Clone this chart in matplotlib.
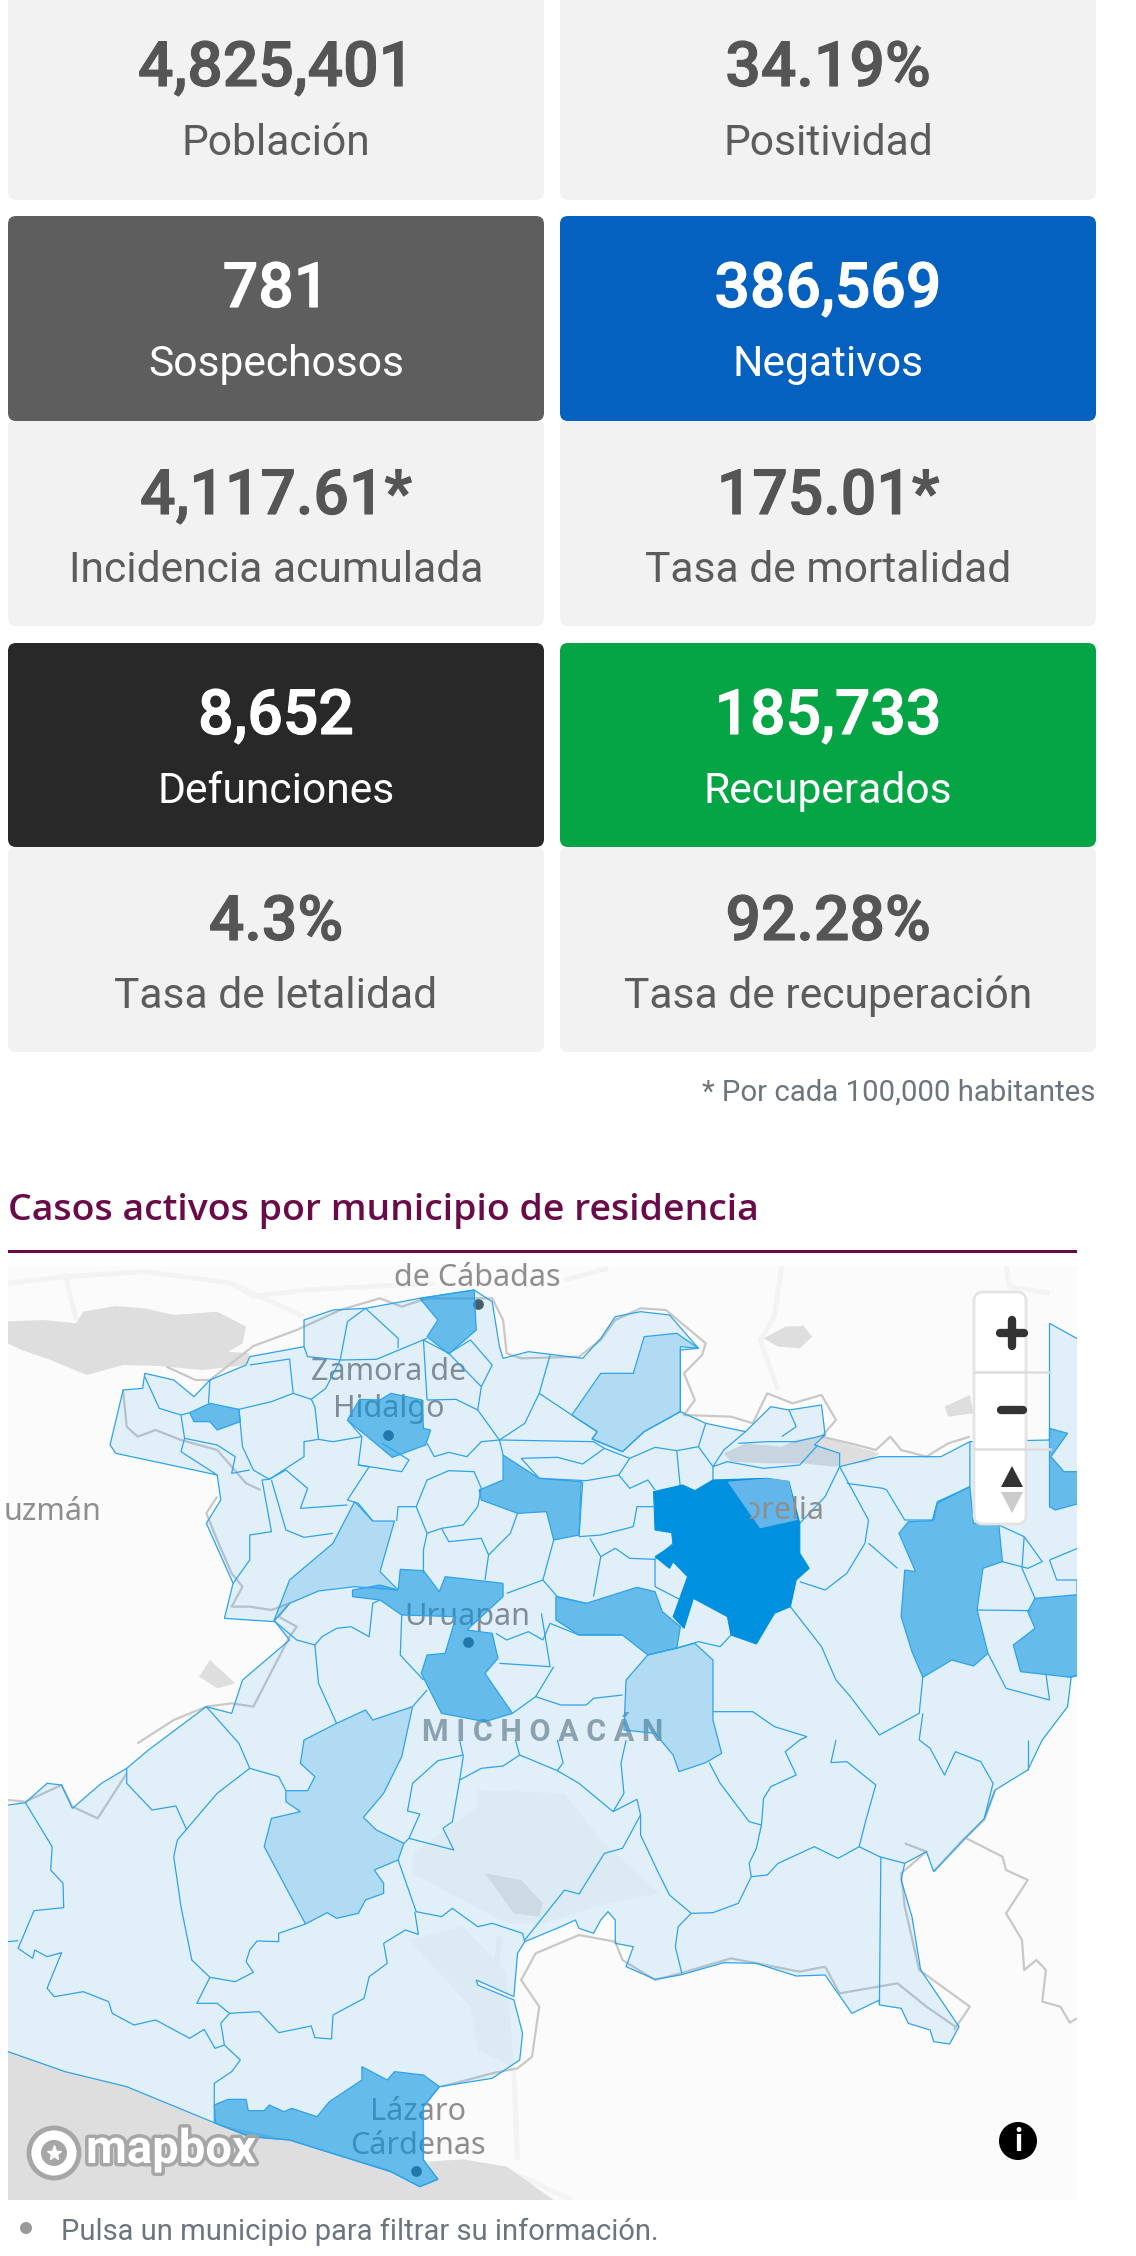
import matplotlib
matplotlib.use('Agg')
import matplotlib.pyplot as plt
import matplotlib.patheffects as pe
from matplotlib.collections import LineCollection
from matplotlib.patches import Circle, FancyBboxPatch, Polygon, Rectangle

plt.rcParams['font.family'] = ['Roboto', 'DejaVu Sans']

# Stat cards, top to bottom
card_values = [['4,825,401', '34.19%'], ['781', '386,569'], ['4,117.61*', '175.01*'],
               ['8,652', '185,733'], ['4.3%', '92.28%']]
card_labels = [['Población', 'Positividad'], ['Sospechosos', 'Negativos'],
               ['Incidencia acumulada', 'Tasa de mortalidad'],
               ['Defunciones', 'Recuperados'], ['Tasa de letalidad', 'Tasa de recuperación']]
card_colors = [['#f2f2f2', '#f2f2f2'], ['#5e5e5e', '#0561bf'], ['#f2f2f2', '#f2f2f2'],
               ['#282828', '#05a545'], ['#f2f2f2', '#f2f2f2']]
card_tops = [-20, 216, 420, 643, 847]
card_bottoms = [200, 421, 626, 847, 1052]
value_base = [86, 307, 514, 734, 940]
label_base = [155, 376, 582, 803, 1008]
card_lefts = [8, 560]
card_rights = [544, 1096]

# Map traced in its own coordinates: x 11-1488, y 78-2880
outline = [(152,615),(170,450),(197,445),(200,400),(240,420),(268,470),(290,420),(340,375),(345,350),(420,320),
           (420,240),(460,210),(505,205),(580,175),(655,150),(680,185),(690,320),(695,355),(730,335),(805,355),
           (830,295),(850,230),(885,215),(925,225),(965,325),(940,330),(940,515),(975,550),(1030,575),(1065,500),
           (1090,510),(1135,495),(1140,585),(1125,615),(1160,640),(1160,680),(1215,650),(1300,650),(1340,605),
           (1450,600),(1450,250),(1500,310),(1500,1300),(1480,1310),(1475,1400),(1440,1500),(1420,1590),(1375,1650),
           (1360,1735),(1290,1895),(1280,1835),(1250,1870),(1245,1920),(1260,2030),(1272,2190),(1325,2360),
           (1312,2412),(1290,2405),(1285,2370),(1255,2350),(1245,2305),(1215,2295),(1215,2280),(1177,2320),
           (1140,2205),(1100,2208),(1045,2170),(1000,2168),(940,2205),(905,2218),(865,2180),(875,2120),(850,2110),
           (850,2040),(840,2015),(830,2040),(820,2080),(800,2065),(795,2040),(775,2060),(725,2105),(715,2140),
           (710,2270),(658,2220),(660,2235),(710,2280),(722,2380),(718,2460),(680,2515),(607,2540),(585,2600),
           (585,2760),(605,2818),(580,2840),(540,2795),(400,2700),(345,2690),(298,2650),(175,2540),(90,2495),
           (11,2435),(0,2430),(0,1695),(11,1695),(35,1688),(65,1630),(85,1635),(100,1705),(140,1630),(175,1585),
           (205,1530),(285,1400),(320,1420),(335,1320),(400,1200),(380,1145),(310,1135),(322,1030),(285,850),
           (305,780),(300,705),(160,640)]

light_areas = [
    [(890,290),(935,280),(965,325),(940,320),(940,515),(890,575),(860,635),(818,597),(825,575),(790,525),(830,400),(875,400)],
    [(490,785),(515,843),(545,843),(525,995),(550,1050),(490,1040),(440,1053),(400,1090),(378,1145),(400,1020),(460,910)],
    [(895,1245),(960,1210),(985,1260),(985,1440),(997,1540),(975,1568),(938,1595),(930,1545),(905,1480),(862,1470),(865,1320)],
    [(420,1500),(415,1570),(435,1610),(425,1652),(395,1652),(395,1685),(415,1715),(375,1735),(365,1820),(422,2052),
     (452,2018),(465,2035),(495,2020),(505,1980),(530,1960),(530,1930),(517,1890),(550,1860),(558,1810),(520,1770),
     (502,1732),(530,1660),(555,1550),(570,1400),(515,1440),(505,1410),(465,1450)],
]
mid_areas = [
    [(580,175),(655,150),(658,270),(620,342),(590,290),(605,240)],
    [(262,518),(290,490),(330,508),(332,545),(300,570),(290,545),(268,545)],
    [(540,460),(583,480),(585,565),(595,570),(588,615),(542,652),(480,540),(497,478),(525,480)],
    [(695,645),(745,715),(803,725),(800,885),(765,900),(755,815),(715,820),(665,780),(662,750),(695,720)],
    [(487,1050),(525,1035),(550,1050),(553,988),(585,992),(607,1055),(615,1010),(695,1030),(695,1070),(645,1170),
     (680,1180),(688,1255),(670,1300),(708,1420),(670,1445),(610,1420),(582,1300),(590,1245),(615,1240),(630,1130),
     (555,1125),(525,1080),(487,1070)],
    [(768,1070),(810,1090),(880,1042),(905,1055),(915,1115),(940,1160),(935,1225),(895,1245),(860,1185),(800,1185),(768,1140)],
    [(1295,785),(1340,740),(1345,850),(1380,855),(1385,965),(1358,985),(1350,1110),(1365,1240),(1345,1278),(1315,1260),
     (1275,1312),(1260,1235),(1245,1130),(1250,990),(1265,995),(1242,880),(1255,845),(1288,842)],
    [(1500,1062),(1430,1075),(1420,1115),(1430,1165),(1400,1215),(1410,1295),(1480,1312),(1500,1300)],
    [(1450,565),(1475,580),(1452,650),(1470,695),(1500,695),(1500,785),(1458,810),(1450,800)],
    [(500,2480),(535,2520),(545,2495),(585,2505),(607,2540),(585,2600),(585,2760),(605,2818),(580,2840),(540,2795),
     (400,2700),(345,2690),(298,2650),(296,2595),(315,2578),(340,2578),(343,2612),(365,2612),(372,2595),(392,2615),
     (403,2605),(438,2630),(455,2585),(500,2520)],
]
dark_area = [(903,755),(943,735),(960,752),(985,720),(1060,715),(1090,725),(1105,850),(1105,940),(1118,985),(1100,1020),
             (1092,1100),(1070,1120),(1045,1212),(1010,1185),(1005,1130),(958,1075),(945,1165),(930,1130),(950,1010),
             (930,965),(925,985),(905,950),(930,915),(928,878),(905,870)]
morelia_area = [(1005,725),(1060,715),(1090,722),(1102,840),(1050,865)]

borders = [
    [(505,205),(550,295),(550,325)], [(505,205),(480,245),(470,360)], [(470,360),(520,358),(590,295)],
    [(585,300),(620,340),(650,300),(670,350),(680,375)], [(420,320),(425,350),(470,360)],
    [(345,375),(400,357),(405,460),(375,485),(330,508)], [(290,420),(288,490)],
    [(200,410),(220,505),(250,525),(262,518)], [(405,460),(430,478),(450,445),(470,360)],
    [(250,525),(255,595),(250,635),(300,705)], [(255,595),(300,615),(325,650),(320,700),(345,690)],
    [(330,508),(335,620),(350,690),(372,718),(420,650),(420,605),(440,598),(435,500),(430,478)],
    [(440,598),(460,605),(500,590),(480,540)], [(500,590),(495,675),(555,695),(565,660),(528,610)],
    [(495,675),(510,680),(480,780),(495,790),(515,843)], [(372,718),(395,690),(425,745),(415,805),(480,795)],
    [(372,718),(362,720),(375,875),(345,885),(345,960),(322,1030)], [(375,720),(395,870),(420,892),(460,880)],
    [(590,610),(600,650),(620,637),(645,650),(665,605),(690,600),(695,645)],
    [(590,480),(630,478),(660,510),(690,600),(725,550),(745,460),(760,345)], [(585,300),(590,480)],
    [(680,375),(665,440),(620,340)], [(665,440),(660,510)],
    [(745,460),(790,525),(825,575),(818,597),(860,635),(890,575),(940,515)], [(690,600),(820,605),(835,625)],
    [(720,655),(770,652),(805,672),(835,625),(870,655)], [(720,655),(745,715),(810,722),(855,705),(870,655)],
    [(870,655),(905,622),(935,632),(965,620),(975,550)], [(935,632),(940,745)], [(965,620),(985,680),(985,720)],
    [(855,705),(870,745),(895,720),(905,750)], [(985,680),(1005,665),(1055,685),(1105,675),(1130,615)],
    [(1020,610),(1060,605),(1100,605),(1140,585)], [(1030,575),(1000,630),(985,680)], [(1090,510),(1100,560),(1080,590)],
    [(1160,680),(1140,770),(1105,850)], [(1160,680),(1200,840),(1195,910),(1170,1000),(1140,1050),(1105,1025)],
    [(1170,730),(1220,745),(1225,750),(1250,840),(1290,840),(1295,790)], [(1295,790),(1340,740),(1340,605)],
    [(1200,910),(1240,985)], [(805,725),(800,890),(830,885),(875,860),(880,800),(905,800)],
    [(815,895),(830,950),(820,1070)], [(830,950),(850,925),(870,955),(905,958),(935,900)],
    [(905,958),(905,1040),(945,1085)],
    [(575,800),(590,720),(620,692),(655,695),(665,745),(660,800),(640,855),(610,865),(590,880),(575,800)],
    [(548,843),(550,800),(575,800)], [(590,880),(585,930),(585,1000)], [(610,865),(620,905),(665,895),(675,945),(670,1020)],
    [(715,820),(705,880),(675,945)], [(765,900),(750,1020),(700,1060)], [(750,1020),(770,1070),(810,1090)],
    [(1092,1100),(1135,1220),(1155,1320),(1175,1370),(1215,1485),(1270,1420),(1275,1310)],
    [(935,1225),(965,1205),(995,1220),(1010,1185)], [(985,1415),(1040,1415),(1070,1460),(1115,1490)],
    [(1275,1420),(1270,1500)], [(1365,1240),(1390,1345),(1450,1380),(1445,1300)], [(1350,1110),(1425,1112)],
    [(1385,965),(1420,985),(1440,965),(1415,890)], [(1415,890),(1412,985),(1430,1075)], [(1450,960),(1500,915)],
    [(1380,855),(1415,890)], [(1450,960),(1460,1020),(1488,1020),(1488,1060)],
    [(748,1120),(760,1280),(690,1270)], [(685,1180),(700,1200),(730,1175),(750,1200)],
    [(765,1280),(740,1370),(775,1395),(810,1395),(820,1375),(860,1365)], [(860,1185),(800,1185),(760,1150),(750,1200)],
    [(740,1370),(708,1420)], [(380,1145),(410,1200),(435,1215),(445,1190),(465,1165),(485,1160),(510,1190),(515,1090),(525,1080)],
    [(555,1125),(553,1245),(585,1320)], [(435,1215),(440,1330),(465,1450)], [(590,1350),(570,1400)],
    [(285,1400),(330,1510),(345,1585),(300,1660),(245,1800),(240,1850),(250,2000),(265,2160),(290,2212),(325,2225),
     (350,2197),(340,2165),(345,2130),(355,2103),(385,2105),(385,2080),(422,2052)],
    [(345,1585),(385,1610),(395,1652)], [(175,1585),(175,1630),(210,1710),(243,1698),(258,1770)],
    [(35,1688),(72,1820),(70,1890),(87,1930),(88,2003),(47,2012),(25,2125),(45,2155),(48,2130),(65,2150),(85,2138),
     (65,2245),(75,2270),(115,2255),(150,2285),(155,2320),(185,2355),(215,2340),(262,2395),(282,2368),(297,2425),
     (310,2415),(332,2460),(320,2495),(296,2530),(296,2650)],
    [(11,2105),(25,2102)],
    [(290,2212),(272,2290),(300,2290),(317,2320),(358,2315),(385,2378),(430,2358),(435,2393),(458,2397),(460,2325),
     (503,2275),(510,2210),(535,2170),(530,2110),(560,2070),(578,2083),(573,2015)],
    [(317,2320),(305,2350),(310,2415)], [(550,1860),(575,2015),(610,2030),(625,2005),(660,2060),(680,2050),(722,2080),(725,2105)],
    [(725,2100),(780,1950),(800,1962),(835,1840),(860,1825),(885,1725),(880,1678),(847,1715),(800,1630),(770,1592),
     (718,1545),(695,1578),(665,1585),(635,1620),(640,1550),(635,1500)],
    [(718,1545),(712,1500)], [(770,1592),(778,1568),(770,1500)], [(847,1715),(862,1660),(858,1570),(865,1500)],
    [(635,1620),(625,1745),(612,1765),(627,1830),(565,1795),(580,1722),(563,1713),(570,1630),(605,1562),(640,1545)],
    [(558,1810),(565,1795)],
    [(885,1725),(885,1785),(910,1900),(925,1965),(955,2020),(985,2018),(1020,1990),(1038,1910),(1060,1905),(1075,1870),
     (1125,1820),(1158,1855),(1187,1820),(1197,1735),(1210,1635),(1170,1565),(1148,1568),(1155,1500)],
    [(955,2020),(937,2060),(933,2120),(942,2200)],
    [(980,1568),(995,1630),(1035,1745),(1052,1755),(1045,1825),(1035,1870),(1038,1910)],
    [(1052,1755),(1055,1675),(1065,1640),(1100,1605),(1085,1535),(1105,1500),(1115,1490)],
    [(1187,1820),(1215,1850),(1250,1870)], [(1360,1735),(1372,1630),(1355,1565),(1320,1535),(1305,1605),(1285,1525),(1270,1500)],
    [(1217,1850),(1215,2295)], [(1420,1500),(1420,1590)],
]

state_lines = [
    [(170,450),(175,560),(190,590),(215,570),(250,600),(300,630),(320,680),(340,730),(360,750)],
    [(300,770),(285,820),(300,900),(320,1000),(335,1040),(320,1100),(345,1100),(375,1110),(400,1090),(385,1130),
     (410,1160),(400,1190),(350,1400),(320,1390),(285,1400),(240,1440),(190,1510)],
    [(230,380),(270,420),(290,420),(350,318),(410,270),(470,210),(525,175),(555,200),(590,175),(680,175),(695,240),
     (700,340),(720,355),(800,350),(830,300),(850,240),(885,205),(920,210),(975,310),(970,345),(945,400),(960,480),
     (945,525),(1010,530),(1040,550),(1060,460),(1095,490),(1135,465),(1155,540),(1135,590),(1175,610),(1210,630),
     (1230,590),(1245,630),(1280,650),(1310,610),(1340,590)],
    [(1335,1795),(1385,1850),(1390,1890),(1420,1920),(1390,2020),(1412,2100),(1415,2190),(1432,2160),(1445,2190),
     (1440,2285),(1465,2300),(1478,2348),(1488,2335)],
    [(1250,1810),(1280,1835),(1245,1900),(1250,2000),(1270,2190),(1340,2300),(1318,2370)],
    [(1140,2180),(1105,2195),(1010,2155),(940,2200),(905,2220),(860,2160),(850,2105),(800,2085),(740,2140),(720,2220),
     (745,2300),(735,2450),(715,2485),(680,2500),(610,2540)],
    [(1140,2180),(1160,2260),(1240,2230),(1280,2300),(1320,2360)],
    [(11,1680),(35,1685),(85,1635),(100,1700),(135,1735),(175,1600)],
    [(1375,1650),(1360,1740),(1330,1800),(1290,1895)],
]
road_lines = [
    [(11,130),(90,110),(200,95),(320,130),(420,230)], [(90,100),(105,240)], [(320,130),(350,170),(420,150),(600,130)],
    [(780,120),(840,85)], [(1080,78),(1070,230),(1050,300),(1075,450)], [(1390,78),(1395,140),(1450,160)],
    [(690,2090),(680,2300),(710,2500),(715,2760)], [(610,2800),(700,2790),(790,2880)],
]
lakes = [
    [(0,245),(60,240),(105,250),(115,215),(160,198),(200,205),(240,225),(300,215),(340,260),(335,310),(315,335),
     (345,340),(340,375),(280,390),(220,378),(170,375),(120,405),(70,360),(30,330),(0,300)],
    [(1085,260),(1110,258),(1122,290),(1105,325),(1075,320),(1055,295)],
    [(1000,640),(1030,610),(1080,620),(1100,600),(1130,590),(1160,605),(1215,640),(1200,665),(1150,680),(1110,670),
     (1060,670),(1010,665)],
    [(0,2425),(90,2495),(175,2540),(295,2650),(400,2700),(540,2790),(580,2840),(605,2820),(590,2765),(640,2758),
     (700,2780),(765,2880),(0,2880)],
    [(1305,500),(1340,465),(1345,520),(1310,530)], [(290,1260),(305,1290),(325,1330),(300,1345),(275,1310)],
]
city_areas = [[(570,1840),(660,1700),(660,1650),(780,1660),(830,1800),(910,1960),(840,1990),(750,2050),(700,2050),(570,1900)],
              [(565,2100),(640,2060),(700,2200),(710,2480),(660,2430),(650,2300)]]
reservoir = [(670,1900),(720,1920),(750,1990),(745,2030),(710,2020)]

map_labels = ['de Cábadas', 'Zamora de', 'Hidalgo', 'uzmán', 'Uruapan', 'Lázaro', 'Cárdenas']
map_label_x = [660, 537, 537, 72, 645, 577, 577]
map_label_y = [115, 395, 508, 815, 1130, 2615, 2717]
city_dots_x = [660, 536, 646, 575]
city_dots_y = [193, 586, 1207, 2792]

title = 'Casos activos por municipio de residencia'
footnote = '* Por cada 100,000 habitantes'
note = 'Pulsa un municipio para filtrar su información.'

fig = plt.figure(figsize=(11.36, 22.56), dpi=100, facecolor='white')
ax = fig.add_axes([0, 0, 1, 1])
ax.set_xlim(0, 1136)
ax.set_ylim(2256, 0)
ax.axis('off')

# cards
for row in [0, 2, 4, 1, 3]:
    for col in range(2):
        left, right = card_lefts[col], card_rights[col]
        top, bottom = card_tops[row], card_bottoms[row]
        ax.add_patch(FancyBboxPatch((left + 8, top + 8), right - left - 16, bottom - top - 16,
                                    boxstyle='round,pad=8,rounding_size=8', fc=card_colors[row][col], ec='none'))
        filled = card_colors[row][col] != '#f2f2f2'
        xc = (left + right) / 2
        value_color = 'white' if filled else '#555555'
        ax.text(xc, value_base[row], card_values[row][col], ha='center', va='baseline', fontsize=45,
                fontweight='medium', color=value_color,
                path_effects=[pe.withStroke(linewidth=0.8, foreground=value_color)])
        ax.text(xc, label_base[row], card_labels[row][col], ha='center', va='baseline', fontsize=30.7,
                color='white' if filled else '#5c5c5c')

ax.text(1096, 1101, footnote, ha='right', va='baseline', fontsize=21.2, color='#6c757d')
ax.text(8, 1220, title, ha='left', va='baseline', fontsize=26.9, fontweight='semibold',
        color='#6a0a48', family=['Open Sans', 'DejaVu Sans'])
ax.add_patch(Rectangle((8, 1250), 1069, 3, fc='#6a0a48', ec='none'))
ax.add_patch(Circle((26, 2228), 6, fc='#999999', ec='none'))
ax.text(61, 2240, note, ha='left', va='baseline', fontsize=21, color='#6c757d')

# map
ax_map = fig.add_axes([8 / 1136, 1 - 2200 / 2256, 1069 / 1136, 934 / 2256], zorder=2)
ax_map.set_xlim(11, 1488)
ax_map.set_ylim(2880, 78)
ax_map.axis('off')
ax_map.add_patch(Rectangle((11, 78), 1477, 2802, fc='#fbfbfb', ec='none', zorder=0))

ax_map.add_collection(LineCollection(road_lines, colors='#f3f3f3', linewidths=3.5, zorder=1))
for lake in lakes:
    ax_map.add_patch(Polygon(lake, fc='#dedede', ec='none', zorder=1))
for area in city_areas:
    ax_map.add_patch(Polygon(area, fc='#f6f6f6', ec='none', zorder=1))
ax_map.add_patch(Polygon(reservoir, fc='#e4e4e4', ec='none', zorder=1))
ax_map.add_collection(LineCollection(state_lines, colors='#c8c8c8', linewidths=1.6, zorder=2))
ax_map.scatter(city_dots_x, city_dots_y, s=45, c='#50585f', zorder=2)
for name, x, y in zip(map_labels, map_label_x, map_label_y):
    ax_map.text(x, y, name, ha='center', va='center', fontsize=22, color='#8e8e8e',
                family=['Noto Sans', 'DejaVu Sans'], zorder=3)
ax_map.text(750, 1475, 'M I C H O A C Á N', ha='center', va='center', fontsize=22, fontweight='bold',
            color='#9aa3aa', zorder=3)

edge = '#2ea3ea'
ax_map.add_patch(Polygon(outline, fc='#0090e0', alpha=0.1, ec='none', zorder=4))
ax_map.add_patch(Polygon(outline, fc='none', ec=edge, lw=0.9, zorder=6))
for area in light_areas:
    ax_map.add_patch(Polygon(area, fc='#0090e0', alpha=0.21, ec='none', zorder=5))
    ax_map.add_patch(Polygon(area, fc='none', ec=edge, lw=0.9, zorder=6))
for area in mid_areas:
    ax_map.add_patch(Polygon(area, fc='#0090e0', alpha=0.55, ec='none', zorder=5))
    ax_map.add_patch(Polygon(area, fc='none', ec=edge, lw=0.9, zorder=6))
ax_map.add_collection(LineCollection(borders, colors=edge, linewidths=0.9, zorder=6))
ax_map.add_patch(Polygon(dark_area, fc='#0090e0', ec='#0090e0', lw=0.8, zorder=7))
ax_map.add_patch(Polygon(morelia_area, fc='#63b6eb', ec='none', zorder=8))
morelia = ax_map.text(1063, 812, 'Morelia', ha='center', va='center', fontsize=22, color='#8e8e8e',
                      family=['Noto Sans', 'DejaVu Sans'], zorder=9)
morelia.set_clip_path(Rectangle((1036, 700), 200, 200, transform=ax_map.transData))
morelia.set_clip_on(True)

# zoom control, logo and info button, drawn in page pixels over the map
ax_top = fig.add_axes([0, 0, 1, 1], zorder=3)
ax_top.set_xlim(0, 1136)
ax_top.set_ylim(2256, 0)
ax_top.axis('off')
ax_top.patch.set_alpha(0)
ax_top.add_patch(FancyBboxPatch((982, 1300), 36, 216, boxstyle='round,pad=8,rounding_size=9',
                                fc='white', ec='#e4e4e4', lw=2))
for y in [1372, 1449]:
    ax_top.plot([974, 1050], [y, y], color='#dddddd', lw=1.8)
ax_top.plot([1012, 1012], [1320, 1346], color='#333333', lw=6, solid_capstyle='round')
ax_top.plot([1000, 1024], [1333, 1333], color='#333333', lw=6, solid_capstyle='round')
ax_top.plot([1001, 1023], [1410, 1410], color='#333333', lw=6, solid_capstyle='round')
ax_top.add_patch(Polygon([(1012, 1466), (1001, 1487), (1023, 1487)], fc='#333333', ec='none'))
ax_top.add_patch(Polygon([(1012, 1513), (1001, 1492), (1023, 1492)], fc='#cccccc', ec='none'))

ax_top.add_patch(Circle((1018, 2141), 19, fc='black', ec='none'))
ax_top.text(1018, 2142, 'i', ha='center', va='center', fontsize=22, fontweight='bold', color='white')

stroke = [pe.withStroke(linewidth=5, foreground='#a6a6a6')]
ax_top.add_patch(Circle((54, 2153), 25, fc='white', ec='#a6a6a6', lw=3.5))
ax_top.add_patch(Circle((54, 2153), 13, fc='#a6a6a6', ec='none'))
ax_top.plot([54], [2153], marker='*', ms=11, color='white')
ax_top.text(86, 2150, 'mapbox', ha='left', va='center', fontsize=34, fontweight='bold', color='white',
            path_effects=stroke)

fig.savefig('out.png', dpi=100)
